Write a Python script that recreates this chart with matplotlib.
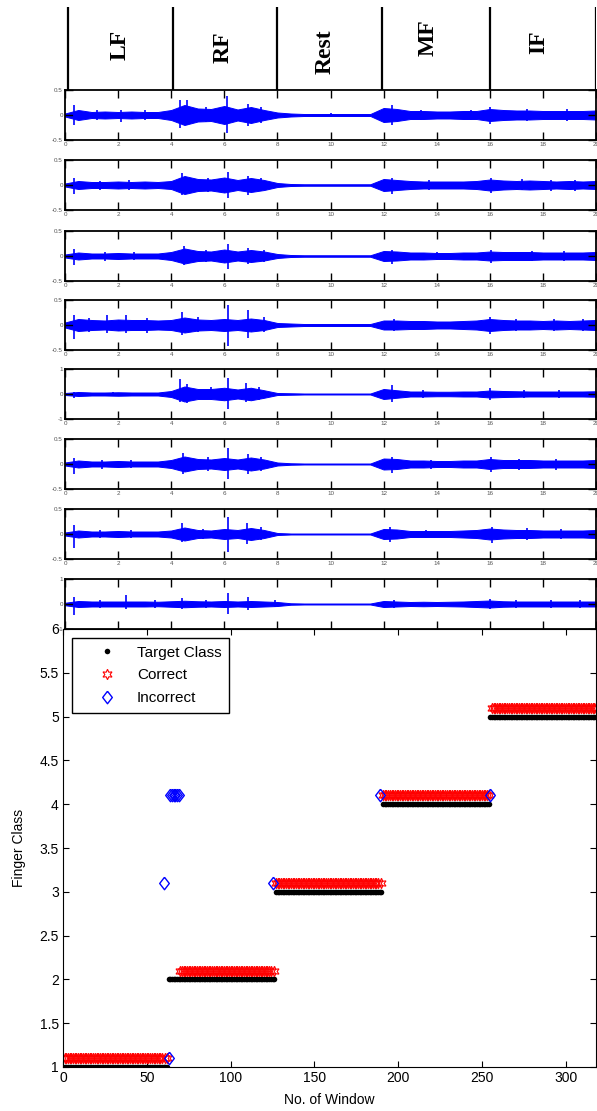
import numpy as np
import matplotlib.pyplot as plt
from matplotlib.ticker import FormatStrFormatter

plt.rcParams['font.family'] = ['Liberation Sans', 'DejaVu Sans']

# ---- EMG channels: half-width of the signal band every 0.5 s (0..20 s) ----
t_env = np.arange(0, 20.01, 0.5)
rest = [0.02] * 7
ch1 = [0.03, 0.10, 0.06, 0.07, 0.06, 0.07, 0.06, 0.06, 0.10, 0.20, 0.13, 0.12, 0.18, 0.11, 0.16, 0.10, 0.05,
       0.03] + rest[:6] + [0.14, 0.12, 0.08, 0.08, 0.07, 0.07, 0.08, 0.08, 0.12, 0.10, 0.09, 0.09, 0.08, 0.08, 0.08, 0.08, 0.09]
ch2 = [0.03, 0.08, 0.06, 0.06, 0.07, 0.06, 0.07, 0.06, 0.08, 0.18, 0.12, 0.11, 0.15, 0.10, 0.14, 0.10, 0.04,
       0.02] + [0.015] * 6 + [0.12, 0.10, 0.08, 0.07, 0.07, 0.07, 0.07, 0.08, 0.11, 0.09, 0.08, 0.09, 0.08, 0.07, 0.08, 0.07, 0.08]
ch3 = [0.03, 0.07, 0.05, 0.05, 0.06, 0.05, 0.05, 0.05, 0.08, 0.15, 0.10, 0.09, 0.13, 0.09, 0.12, 0.09, 0.04,
       0.02] + [0.015] * 6 + [0.10, 0.09, 0.07, 0.07, 0.06, 0.06, 0.07, 0.07, 0.09, 0.08, 0.08, 0.08, 0.07, 0.07, 0.07, 0.07, 0.08]
ch4 = [0.05, 0.12, 0.10, 0.09, 0.11, 0.10, 0.10, 0.09, 0.10, 0.15, 0.11, 0.10, 0.12, 0.10, 0.13, 0.10, 0.04,
       0.03] + rest[:6] + [0.09, 0.09, 0.08, 0.08, 0.07, 0.07, 0.08, 0.09, 0.12, 0.10, 0.09, 0.09, 0.08, 0.09, 0.08, 0.09, 0.10]
ch5 = [0.04, 0.08, 0.06, 0.06, 0.07, 0.06, 0.06, 0.06, 0.12, 0.30, 0.20, 0.20, 0.25, 0.18, 0.25, 0.15, 0.04,
       0.03] + rest[:6] + [0.20, 0.15, 0.10, 0.10, 0.09, 0.09, 0.10, 0.10, 0.14, 0.12, 0.11, 0.10, 0.10, 0.10, 0.10, 0.10, 0.11]
ch6 = [0.03, 0.07, 0.05, 0.05, 0.06, 0.05, 0.05, 0.05, 0.08, 0.15, 0.10, 0.09, 0.12, 0.09, 0.13, 0.09, 0.03,
       0.015] + [0.01] * 6 + [0.11, 0.10, 0.07, 0.07, 0.06, 0.06, 0.07, 0.07, 0.10, 0.08, 0.08, 0.08, 0.07, 0.07, 0.07, 0.07, 0.08]
ch7 = [0.03, 0.07, 0.05, 0.05, 0.06, 0.05, 0.05, 0.05, 0.07, 0.13, 0.08, 0.07, 0.10, 0.08, 0.12, 0.08, 0.02,
       0.01] + [0.01] * 6 + [0.10, 0.09, 0.06, 0.06, 0.06, 0.06, 0.07, 0.08, 0.11, 0.09, 0.08, 0.08, 0.07, 0.07, 0.07, 0.07, 0.08]
ch8 = [0.05, 0.12, 0.10, 0.10, 0.10, 0.10, 0.10, 0.09, 0.11, 0.13, 0.11, 0.10, 0.12, 0.10, 0.12, 0.10, 0.08,
       0.03] + rest[:6] + [0.12, 0.10, 0.08, 0.09, 0.08, 0.09, 0.10, 0.12, 0.14, 0.11, 0.10, 0.10, 0.10, 0.10, 0.10, 0.10, 0.10]
channels = [ch1, ch2, ch3, ch4, ch5, ch6, ch7, ch8]
ylims = [0.5, 0.5, 0.5, 0.5, 1, 0.5, 0.5, 1]

# spikes: (time, peak up, peak down)
spikes = [
    [(0.35, 0.2, -0.2), (1.2, 0.1, -0.1), (2.1, 0.1, -0.14), (3.0, 0.1, -0.09), (4.35, 0.3, -0.25), (4.6, 0.3, -0.2),
     (5.3, 0.17, -0.14), (6.1, 0.38, -0.35), (6.9, 0.22, -0.22), (7.4, 0.17, -0.15), (10.0, 0.04, -0.03),
     (12.3, 0.2, -0.2), (13.4, 0.11, -0.1), (15.3, 0.11, -0.1), (16.0, 0.17, -0.17), (17.4, 0.13, -0.12), (18.9, 0.12, -0.12)],
    [(0.35, 0.15, -0.18), (1.3, 0.09, -0.1), (2.4, 0.1, -0.09), (4.4, 0.25, -0.2), (5.4, 0.15, -0.13), (6.15, 0.27, -0.25),
     (6.9, 0.18, -0.2), (7.4, 0.15, -0.12), (12.3, 0.15, -0.18), (13.7, 0.1, -0.09), (16.05, 0.14, -0.15),
     (17.2, 0.12, -0.1), (18.3, 0.11, -0.12), (19.2, 0.1, -0.11)],
    [(0.35, 0.15, -0.18), (1.5, 0.08, -0.09), (2.6, 0.09, -0.08), (4.5, 0.2, -0.18), (5.3, 0.13, -0.12), (6.15, 0.25, -0.25),
     (6.9, 0.17, -0.15), (7.5, 0.13, -0.12), (12.3, 0.13, -0.15), (14.0, 0.09, -0.08), (16.05, 0.12, -0.13),
     (17.6, 0.11, -0.1), (18.8, 0.1, -0.1)],
    [(0.35, 0.2, -0.28), (0.9, 0.15, -0.14), (1.6, 0.2, -0.15), (2.3, 0.2, -0.15), (3.1, 0.14, -0.15), (4.4, 0.27, -0.2),
     (5.0, 0.17, -0.14), (6.15, 0.4, -0.42), (6.9, 0.3, -0.25), (7.5, 0.16, -0.14), (12.4, 0.12, -0.12),
     (16.0, 0.16, -0.18), (17.0, 0.13, -0.12), (18.4, 0.12, -0.12), (19.5, 0.12, -0.12)],
    [(0.35, 0.1, -0.15), (1.8, 0.09, -0.08), (4.35, 0.6, -0.3), (4.6, 0.4, -0.35), (5.5, 0.3, -0.25), (6.15, 0.65, -0.6),
     (6.8, 0.45, -0.3), (7.3, 0.3, -0.25), (12.3, 0.35, -0.3), (13.5, 0.15, -0.14), (16.0, 0.25, -0.25),
     (17.3, 0.16, -0.15), (18.6, 0.15, -0.14)],
    [(0.35, 0.12, -0.2), (1.4, 0.08, -0.09), (2.5, 0.09, -0.08), (4.45, 0.22, -0.2), (5.4, 0.14, -0.13), (6.15, 0.33, -0.3),
     (6.9, 0.2, -0.2), (7.4, 0.15, -0.14), (12.3, 0.15, -0.18), (13.8, 0.09, -0.09), (16.05, 0.15, -0.15),
     (17.1, 0.11, -0.11), (18.5, 0.1, -0.11)],
    [(0.35, 0.18, -0.28), (1.3, 0.08, -0.08), (2.5, 0.09, -0.08), (4.4, 0.22, -0.15), (5.2, 0.11, -0.1), (6.15, 0.35, -0.35),
     (6.85, 0.22, -0.2), (7.4, 0.14, -0.12), (12.25, 0.15, -0.15), (13.6, 0.09, -0.08), (16.1, 0.15, -0.17),
     (17.4, 0.12, -0.11), (18.7, 0.1, -0.1)],
    [(0.35, 0.3, -0.45), (1.3, 0.18, -0.15), (2.3, 0.35, -0.2), (3.4, 0.16, -0.15), (4.4, 0.25, -0.2), (5.3, 0.18, -0.15),
     (6.15, 0.45, -0.4), (6.9, 0.3, -0.25), (7.9, 0.15, -0.1), (12.4, 0.17, -0.15), (16.0, 0.2, -0.2),
     (17.0, 0.17, -0.15), (18.3, 0.16, -0.15), (19.4, 0.15, -0.14)],
]

gestures = ['LF', 'RF', 'Rest', 'MF', 'IF']
gesture_marks = [0.1, 4.05, 8.0, 11.95, 16.0, 20.0]

# ---- classification result ----
class_end = [62, 126, 190, 254, 318]      # last window of each target class
wrong_win = [60, 63, 64, 65, 66, 67, 68, 69, 125, 189, 255]
wrong_pred = [3, 1, 4, 4, 4, 4, 4, 4, 3, 4, 4]

windows = np.arange(1, class_end[-1] + 1)
target = np.searchsorted(class_end, windows) + 1
ok = ~np.isin(windows, wrong_win)

W, H = 597, 1111
fig = plt.figure(figsize=(W / 100, H / 100), dpi=100)


def box(l, t, r, b):
    return [l / W, 1 - b / H, (r - l) / W, (b - t) / H]


# header with gesture names
hx = fig.add_axes(box(65, 7, 596, 90))
hx.set_xlim(0, 20)
hx.set_ylim(0, 1)
hx.axis('off')
hx.vlines(gesture_marks, 0, 1, color='k', lw=1.6)
lab_pos = [(2.07, 0.54), (5.95, 0.51), (9.79, 0.46), (13.67, 0.63), (17.85, 0.58)]
for g, (x, y) in zip(gestures, lab_pos):
    hx.text(x, y, g, rotation=90, ha='center', va='center', fontsize=17,
            fontweight='bold', family='Liberation Serif')

# EMG panels
tops = [90, 160, 231, 300, 369, 439, 509, 579]
for top, ch, lim, sp in zip(tops, channels, ylims, spikes):
    ax = fig.add_axes(box(65, top, 596, top + 50))
    amp = np.array(ch)
    ax.fill_between(t_env, -amp, amp, color='b', lw=0.7)
    st, hi, lo = zip(*sp)
    ax.vlines(st, lo, hi, color='b', lw=1.2)
    ax.set_xlim(0, 20)
    ax.set_ylim(-lim, lim)
    ax.set_xticks(range(0, 21, 2))
    ax.set_yticks([-lim, 0, lim])
    ax.xaxis.set_major_formatter(FormatStrFormatter('%g'))
    ax.yaxis.set_major_formatter(FormatStrFormatter('%g'))
    ax.tick_params(direction='in', length=6, width=1, top=True, right=True,
                   labelsize=4.5, labelcolor='#555555', pad=1.5)
    for s in ax.spines.values():
        s.set_linewidth(1.3)

# classification scatter
ax = fig.add_axes(box(63, 629, 596, 1067))
h1, = ax.plot(windows, target, 'o', color='k', ms=4, mew=0, label='Target Class')
h2, = ax.plot(windows[ok], target[ok] + 0.1, ls='none', marker=(6, 1, 0), ms=7.5,
              mfc='none', mec='r', mew=0.8, label='Correct')
diamond = [(0, 1), (0.77, 0), (0, -1), (-0.77, 0), (0, 1)]
h3, = ax.plot(wrong_win, np.array(wrong_pred) + 0.1, ls='none', marker=diamond, ms=9,
              mfc='none', mec='b', mew=1.0, label='Incorrect')
ax.set_xlim(0, 318)
ax.set_ylim(1, 6)
ax.set_xticks(range(0, 301, 50))
ax.set_yticks(np.arange(1, 6.01, 0.5))
ax.yaxis.set_major_formatter(FormatStrFormatter('%g'))
ax.tick_params(direction='in', length=4, top=True, right=True, labelsize=10, pad=3)
ax.set_xlabel('No. of Window', fontsize=10, labelpad=6)
ax.set_ylabel('Finger Class', fontsize=10, labelpad=10)
leg = ax.legend(handles=[h1, h2, h3], loc='upper left', bbox_to_anchor=(9 / 533, 1 - 9 / 438),
                borderaxespad=0, fancybox=False, edgecolor='k', framealpha=1, fontsize=11,
                handlelength=3.6, handletextpad=0.15, borderpad=0.5, labelspacing=0.57)
leg.get_frame().set_linewidth(1.0)

fig.savefig('out.png', dpi=100)
